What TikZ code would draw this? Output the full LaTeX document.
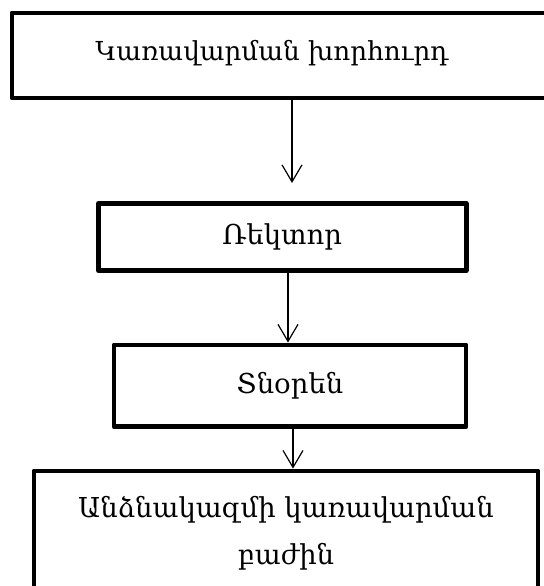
\documentclass[tikz,border=0pt]{standalone}
\usepackage{fontspec}
\setmainfont{DejaVu Serif}
\usetikzlibrary{arrows.meta}

\begin{document}
\begin{tikzpicture}[x=0.025cm, y=-0.025cm,
  box/.style={draw, line width=0.12cm, line join=round, inner sep=0pt,
    align=center, font=\fontsize{19.5}{33.5}\selectfont},
  boxtext/.style={inner sep=0pt, font=\fontsize{18.6}{33.5}\selectfont},
  arr/.style={line width=0.85pt, -{Straight Barb[length=4.25mm,width=5mm]}}]
  % page
  \useasboundingbox (0,0) rectangle (544,586);

  % boxes
  \node[box, minimum width=15cm, minimum height=2.125cm] (board) at (312,55.5) {};
  \node[boxtext] (boardlabel) at (272,53) {Կառավարման խորհուրդ};
  \node[box, minimum width=9.19cm, minimum height=1.675cm] (rector) at (282.25,237) {Ռեկտոր};
  \node[box, minimum width=8.8cm, minimum height=2.04cm] (director) at (290,385.75) {Տնօրեն};
  \node[box, minimum width=12.6cm, minimum height=3.1cm] (staff) at (286,533)
    {Անձնակազմի կառավարման\\բաժին};

  % arrows
  \coordinate (tip1) at (292,183);
  \coordinate (x2) at (288,0);
  \coordinate (x3) at (293,0);
  \draw[arr] (board.south -| tip1) -- (tip1);
  \draw[arr] (rector.south -| x2) -- (director.north -| x2);
  \draw[arr] (director.south -| x3) -- (staff.north -| x3);
\end{tikzpicture}
\end{document}
